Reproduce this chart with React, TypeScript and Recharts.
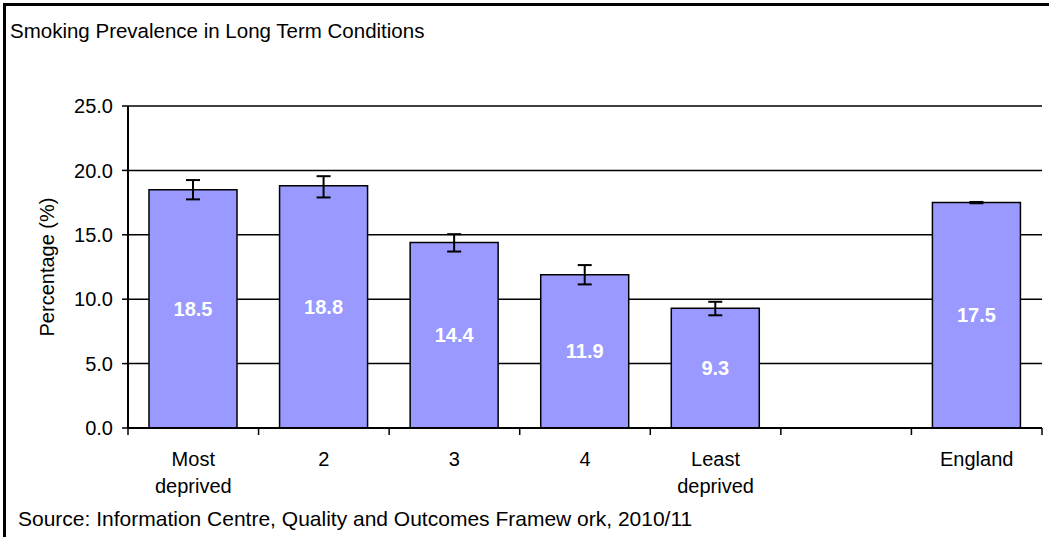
import React from "react";
import {
  BarChart,
  Bar,
  XAxis,
  YAxis,
  CartesianGrid,
  ErrorBar,
  LabelList
} from "recharts";

const categories = ["Most\ndeprived", "2", "3", "4", "Least\ndeprived", "", "England"];
const prevalence = [18.5, 18.8, 14.4, 11.9, 9.3, null, 17.5];
const ciLower = [17.75, 17.9, 13.7, 11.15, 8.75, null, 17.45];
const ciUpper = [19.25, 19.55, 15.05, 12.65, 9.8, null, 17.55];
const yTicks = [0, 5, 10, 15, 20, 25];

const FONT = "'Liberation Sans', Arial, sans-serif";

const data = categories.map(function (name, i) {
  const v = prevalence[i];
  const lo = ciLower[i];
  const hi = ciUpper[i];
  return {
    name: name,
    value: v,
    err: v == null || lo == null || hi == null ? null : [v - lo, hi - v]
  };
});

// label under each category, plus the boundary tick marks between categories
function CategoryTick(props: any) {
  const lines = String(props.payload.value).split("\n");
  const count = props.visibleTicksCount || categories.length;
  const band = props.width / count;
  const left = props.x - band / 2;
  const right = props.x + band / 2;
  const last = props.index === count - 1;
  return (
    <g>
      <line x1={left} y1={props.y} x2={left} y2={props.y + 7} stroke="#000" strokeWidth={1.5} />
      {last ? (
        <line x1={right} y1={props.y} x2={right} y2={props.y + 7} stroke="#000" strokeWidth={1.5} />
      ) : null}
      <text
        x={props.x}
        y={props.y}
        textAnchor="middle"
        fontFamily={FONT}
        fontSize={20}
        fill="#000"
      >
        {lines.map(function (line, i) {
          return (
            <tspan key={i} x={props.x} dy={i === 0 ? 38 : 27}>
              {line}
            </tspan>
          );
        })}
      </text>
    </g>
  );
}

function YTitle(props: any) {
  const vb = props.viewBox || {};
  const cy = (vb.y || 0) + (vb.height || 0) / 2;
  return (
    <text
      x={47}
      y={cy}
      transform={"rotate(-90, 47, " + cy + ")"}
      textAnchor="middle"
      dominantBaseline="central"
      fontFamily={FONT}
      fontSize={20}
      fill="#000"
    >
      Percentage (%)
    </text>
  );
}

export default function App() {
  return (
    <div
      style={{
        position: "absolute",
        left: 0,
        top: 0,
        width: 1049,
        height: 537,
        background: "#fff",
        fontFamily: FONT,
        overflow: "hidden"
      }}
    >
      <div
        style={{
          position: "absolute",
          left: 3,
          top: 3,
          width: 1060,
          height: 560,
          borderTop: "3px solid #000",
          borderLeft: "3px solid #000"
        }}
      />
      <div
        style={{
          position: "absolute",
          left: 10,
          top: 19,
          fontSize: 20.5,
          color: "#000",
          whiteSpace: "nowrap"
        }}
      >
        Smoking Prevalence in Long Term Conditions
      </div>
      <div
        style={{
          position: "absolute",
          left: 18,
          top: 507,
          fontSize: 21,
          color: "#000",
          whiteSpace: "nowrap"
        }}
      >
        Source: Information Centre, Quality and Outcomes Framew ork, 2010/11
      </div>
      <div style={{ position: "absolute", left: 0, top: 0 }}>
        <BarChart
          width={1049}
          height={537}
          data={data}
          margin={{ top: 106, right: 7, bottom: 108, left: 0 }}
          barCategoryGap={0}
        >
          <CartesianGrid
            vertical={false}
            stroke="#000"
            strokeWidth={1.5}
          />
          <XAxis
            dataKey="name"
            height={1}
            axisLine={{ stroke: "#000", strokeWidth: 2 }}
            tickLine={false}
            tickMargin={0}
            tickSize={0}
            interval={0}
            tick={<CategoryTick />}
          />
          <YAxis
            width={128}
            domain={[0, 25]}
            ticks={yTicks}
            interval={0}
            tickFormatter={(v: number) => v.toFixed(1)}
            tick={{ fontSize: 20, fill: "#000", fontFamily: FONT }}
            tickSize={6}
            tickMargin={9}
            axisLine={{ stroke: "#000", strokeWidth: 2 }}
            tickLine={{ stroke: "#000", strokeWidth: 1.5 }}
            label={<YTitle />}
          />
          <YAxis
            yAxisId="r"
            orientation="right"
            width={0}
            domain={[0, 25]}
            tick={false}
            tickLine={false}
            axisLine={{ stroke: "#000", strokeWidth: 2 }}
          />
          <Bar
            dataKey="value"
            fill="#9999FF"
            stroke="#000"
            strokeWidth={1.5}
            barSize={88}
            isAnimationActive={false}
          >
            <ErrorBar
              dataKey="err"
              width={7}
              stroke="#000"
              strokeWidth={2}
              direction="y"
              isAnimationActive={false}
            />
            <LabelList
              dataKey="value"
              position="center"
              fill="#fff"
              fontSize={20}
              fontWeight="bold"
              fontFamily={FONT}
              formatter={(v: any) => (v == null ? "" : Number(v).toFixed(1))}
            />
          </Bar>
        </BarChart>
      </div>
    </div>
  );
}
